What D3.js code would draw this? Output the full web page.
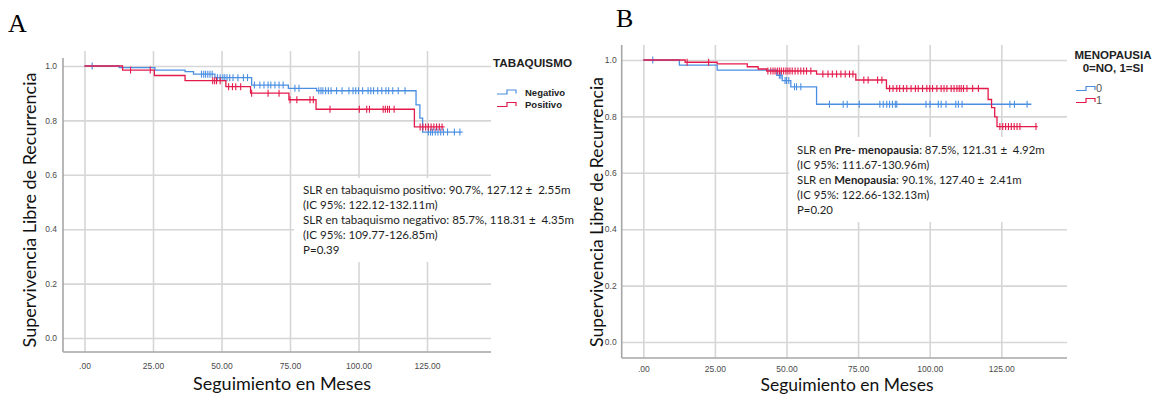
<!DOCTYPE html>
<html><head><meta charset="utf-8">
<script src="https://cdn.jsdelivr.net/npm/d3@7"></script>
<style>body{margin:0;background:#fff} svg{display:block}</style>
</head><body><svg id="c" width="1159" height="396"></svg>
<script>
// ---------- shared ticks ----------
const xTicks = [0, 25, 50, 75, 100, 125];
const xTickLabels = [".00", "25.00", "50.00", "75.00", "100.00", "125.00"];
const yTicks = [0, 0.2, 0.4, 0.6, 0.8, 1.0];
const yTickLabels = ["0.0", "0.2", "0.4", "0.6", "0.8", "1.0"];

// ---------- Panel A : TABAQUISMO ----------
const aSeriesNames = ["Negativo", "Positivo"];
const aNegTimes = [0, 12.7, 25.7, 36.7, 39.8, 47.6, 61.0, 74.4, 84.7, 121.0, 122.4, 123.4, 138.0];
const aNegSurv  = [1, 0.994, 0.985, 0.979, 0.970, 0.957, 0.930, 0.918, 0.909, 0.857, 0.808, 0.757, 0.757];
const aNegCens  = [2.8, 42.7, 43.5, 44.2, 45, 45.8, 46.6, 48.5, 49.5, 50.5, 51.2, 52, 53, 54.2, 56, 58, 59.5,
  62, 64, 65.5, 67, 68, 69.5, 71, 72.5, 76.8, 78.3, 85.5, 86.3, 87, 88, 89, 90, 92, 94, 96.5, 98, 99, 100,
  101.5, 103.5, 104.5, 105.5, 107, 108.5, 110, 111, 112.5, 114.5, 117, 125.5, 126.3, 127, 128, 129, 130,
  131, 132.5, 135, 137];
const aPosTimes = [0, 13.9, 25.5, 36.7, 51.6, 60.6, 74.6, 84.5, 120.4, 131.4];
const aPosSurv  = [1, 0.985, 0.965, 0.946, 0.924, 0.900, 0.876, 0.841, 0.776, 0.776];
const aPosCens  = [16.8, 24, 46.8, 47.5, 48.2, 49.5, 52.6, 54, 55.2, 57, 61, 67, 71, 75, 77.5, 82.3, 83.5,
  89.6, 100.3, 103, 104, 109, 109.8, 110.6, 111.3, 113, 122.5, 123.5, 124.5, 125.5, 126.5, 127.5, 128.5,
  129.5, 130.5];
const aNote = [
  [["SLR en tabaquismo positivo: 90.7%, 127.12 ±  2.55m", false]],
  [["(IC 95%: 122.12-132.11m)", false]],
  [["SLR en tabaquismo negativo: 85.7%, 118.31 ±  4.35m", false]],
  [["(IC 95%: 109.77-126.85m)", false]],
  [["P=0.39", false]]
];

// ---------- Panel B : MENOPAUSIA ----------
const bSeriesNames = ["0", "1"];
const bNoTimes = [0, 12.6, 25.8, 46.6, 48.5, 51.5, 60.5, 135.5];
const bNoSurv  = [1, 0.982, 0.964, 0.946, 0.927, 0.905, 0.843, 0.843];
const bNoCens  = [3.3, 47.5, 48, 49.5, 50, 50.8, 52.8, 53.5, 55, 65, 69.8, 71.2, 75.4, 82.6, 83.8, 85, 86,
  87, 88, 88.5, 98.7, 100.1, 103, 104, 105.7, 109.1, 110, 111.3, 128, 129.6, 134];
const bYesTimes = [0, 14.6, 25.8, 36.3, 40.1, 43.1, 60.5, 74.2, 84.9, 120.4, 121.6, 122.7, 123.5, 137.7];
const bYesSurv  = [1, 0.992, 0.986, 0.976, 0.968, 0.961, 0.950, 0.929, 0.899, 0.860, 0.831, 0.798, 0.764, 0.764];
const bYesCens  = [15.3, 22.8, 43.5, 44.5, 45.3, 46, 46.8, 47.5, 48.2, 49, 49.8, 50.5, 51.2, 52, 53, 54, 55,
  56, 57, 58.5, 62.7, 64.5, 66, 67.5, 69, 70.5, 72, 73.2, 77, 78.5, 81.8, 83.3, 86, 87.2, 88.5, 89.5, 90.8,
  92, 93.5, 95, 96, 97.5, 99, 100, 101, 102.5, 104, 105, 106, 107.5, 108.5, 109.5, 110.3, 111, 111.8, 113,
  115, 117, 124.5, 125.5, 126.5, 127.5, 128.5, 129.5, 130.5, 131.5, 137.1];
const bNote = [
  [["SLR en ", false], ["Pre- menopausia", true], [": 87.5%, 121.31 ±  4.92m", false]],
  [["(IC 95%: 111.67-130.96m)", false]],
  [["SLR en ", false], ["Menopausia", true], [": 90.1%, 127.40 ±  2.41m", false]],
  [["(IC 95%: 122.66-132.13m)", false]],
  [["P=0.20", false]]
];

const BLUE = "#4b8fe2", RED = "#e31b4b";
const GRID = "#d6d6d6", AXIS = "#a6a6a6", TICKTXT = "#4a4a4a";
const svg = d3.select("#c");

function panel(cfg) {
  const g = svg.append("g");
  const x = d3.scaleLinear().domain([0, 125]).range([cfg.x0, cfg.x125]);
  const y = d3.scaleLinear().domain([0, 1]).range([cfg.y0, cfg.y1]);

  // vertical grid + x tick labels
  const xa = g.append("g").attr("transform", `translate(0,${cfg.axB})`)
    .call(d3.axisBottom(x).tickValues(xTicks).tickFormat((d, i) => xTickLabels[i])
      .tickSize(-(cfg.axB - cfg.gridTop)).tickPadding(cfg.xPad));
  xa.select(".domain").remove();
  xa.selectAll("line").attr("stroke", GRID).attr("stroke-width", 1.6);
  xa.selectAll("text").attr("fill", TICKTXT).style("font", "8.5px 'Liberation Sans', Arial, sans-serif");

  // horizontal grid + y tick labels
  const ya = g.append("g").attr("transform", `translate(${cfg.axL},0)`)
    .call(d3.axisLeft(y).tickValues(yTicks).tickFormat((d, i) => yTickLabels[i])
      .tickSize(-(cfg.axR - cfg.axL)).tickPadding(cfg.yPad));
  ya.select(".domain").remove();
  ya.selectAll("line").attr("stroke", GRID).attr("stroke-width", 1.6);
  ya.selectAll("text").attr("fill", TICKTXT).style("font", "8.5px 'Liberation Sans', Arial, sans-serif");

  // axis lines
  g.append("line").attr("x1", cfg.axL).attr("x2", cfg.axL).attr("y1", cfg.axTop).attr("y2", cfg.axB)
    .attr("stroke", AXIS).attr("stroke-width", 1.6);
  g.append("line").attr("x1", cfg.axL).attr("x2", cfg.axR).attr("y1", cfg.axB).attr("y2", cfg.axB)
    .attr("stroke", AXIS).attr("stroke-width", 1.6);

  // annotation box
  g.append("rect").attr("x", cfg.box[0]).attr("y", cfg.box[1]).attr("width", cfg.box[2]).attr("height", cfg.box[3])
    .attr("fill", "#fff");
  const nodes = [];
  cfg.note.forEach((parts, i) => {
    const t = g.append("text").attr("x", cfg.noteX).attr("y", cfg.noteY + i * cfg.noteDy)
      .attr("fill", "#1e1e1e").style("font-family", "Lato, 'Open Sans', sans-serif")
      .style("white-space", "pre");
    parts.forEach(p => t.append("tspan").text(p[0]).style("font-weight", p[1] ? "700" : "400"));
    nodes.push(t);
  });
  nodes.forEach(t => t.style("font-size", "12px"));
  const w0 = nodes[0].node().getComputedTextLength();
  const fs = 12 * cfg.noteW / w0;
  nodes.forEach(t => t.style("font-size", fs + "px"));

  // KM curves
  const line = d3.line().x(d => x(d[0])).y(d => y(d[1])).curve(d3.curveStepAfter);
  cfg.series.forEach(s => {
    const pts = s.t.map((t, i) => [t, s.s[i]]);
    g.append("path").attr("d", line(pts)).attr("fill", "none").attr("stroke", s.color).attr("stroke-width", 1.3);
    const survAt = t => { let v = s.s[0]; for (let i = 0; i < s.t.length; i++) if (s.t[i] <= t) v = s.s[i]; return v; };
    g.append("g").selectAll("line").data(s.c).join("line")
      .attr("x1", d => x(d)).attr("x2", d => x(d))
      .attr("y1", d => y(survAt(d)) - 3.5).attr("y2", d => y(survAt(d)) + 3.5)
      .attr("stroke", s.color).attr("stroke-width", 1.1);
  });

  // axis titles
  const xt = g.append("text").attr("x", cfg.xTitle[0]).attr("y", cfg.xTitle[1]).attr("text-anchor", "middle")
    .attr("fill", "#111").style("font", "17px Lato, 'Open Sans', sans-serif").text("Seguimiento en Meses");
  xt.style("font-size", 17 * cfg.xTitle[2] / xt.node().getComputedTextLength() + "px");
  const yt = g.append("text").attr("transform", `translate(${cfg.yTitle[0]},${cfg.yTitle[1]}) rotate(-90)`)
    .attr("text-anchor", "middle").attr("fill", "#111")
    .style("font", "17px Lato, 'Open Sans', sans-serif").text("Supervivencia Libre de Recurrencia");
  yt.style("font-size", 17 * cfg.yTitle[2] / yt.node().getComputedTextLength() + "px");

  // panel letter
  g.append("text").attr("x", cfg.letter[0]).attr("y", cfg.letter[1]).attr("fill", "#000")
    .style("font", "26px 'Liberation Serif', 'Times New Roman', serif").text(cfg.letter[2]);

  // legend
  const lg = g.append("g");
  cfg.legTitle.forEach(l => lg.append("text").attr("x", l[0]).attr("y", l[1]).attr("text-anchor", l[3])
    .attr("fill", "#222").style("font", `700 ${l[4]}px 'Liberation Sans', Arial, sans-serif`).text(l[2]));
  cfg.series.forEach((s, i) => {
    const lx = cfg.legX, ly = cfg.legY + i * cfg.legDy;
    lg.append("path").attr("d", `M${lx},${ly + 2} H${lx + 10} V${ly - 2} H${lx + 19} V${ly + 1.5}`)
      .attr("fill", "none").attr("stroke", s.color).attr("stroke-width", 1.2);
    lg.append("text").attr("x", lx + cfg.legTxtDx).attr("y", ly + 3.5).attr("fill", cfg.legTxtColor)
      .style("font", cfg.legFont).text(s.name);
  });
}

panel({
  x0: 84.5, x125: 427, y0: 338, y1: 66, axL: 63, axR: 491, axTop: 58, gridTop: 51, axB: 352,
  xPad: 11, yPad: 6,
  box: [294, 178, 290, 84], note: aNote, noteX: 303, noteY: 194, noteDy: 15, noteW: 268,
  series: [
    { name: aSeriesNames[0], t: aNegTimes, s: aNegSurv, c: aNegCens, color: BLUE },
    { name: aSeriesNames[1], t: aPosTimes, s: aPosSurv, c: aPosCens, color: RED }
  ],
  xTitle: [282, 390, 178], yTitle: [36, 210, 275], letter: [8, 32, "A"],
  legTitle: [[493, 67, "TABAQUISMO", "start", 11.7]],
  legX: 497, legY: 92, legDy: 12.5, legTxtDx: 28, legTxtColor: "#222",
  legFont: "700 9.5px 'Liberation Sans', Arial, sans-serif"
});

panel({
  x0: 643.3, x125: 1001.3, y0: 342, y1: 60, axL: 621.7, axR: 1067, axTop: 45, gridTop: 45, axB: 358,
  xPad: 8, yPad: 5,
  box: [789, 137, 285, 85], note: bNote, noteX: 797, noteY: 154, noteDy: 15, noteW: 248,
  series: [
    { name: bSeriesNames[0], t: bNoTimes, s: bNoSurv, c: bNoCens, color: BLUE },
    { name: bSeriesNames[1], t: bYesTimes, s: bYesSurv, c: bYesCens, color: RED }
  ],
  xTitle: [847, 391, 173], yTitle: [603, 212, 270], letter: [616, 27, "B"],
  legTitle: [[1113, 58.5, "MENOPAUSIA", "middle", 11.5], [1113, 71.5, "0=NO, 1=SI", "middle", 11.5]],
  legX: 1076, legY: 88.5, legDy: 12, legTxtDx: 20, legTxtColor: "#555",
  legFont: "11px 'Liberation Sans', Arial, sans-serif"
});
</script>
</body></html>
